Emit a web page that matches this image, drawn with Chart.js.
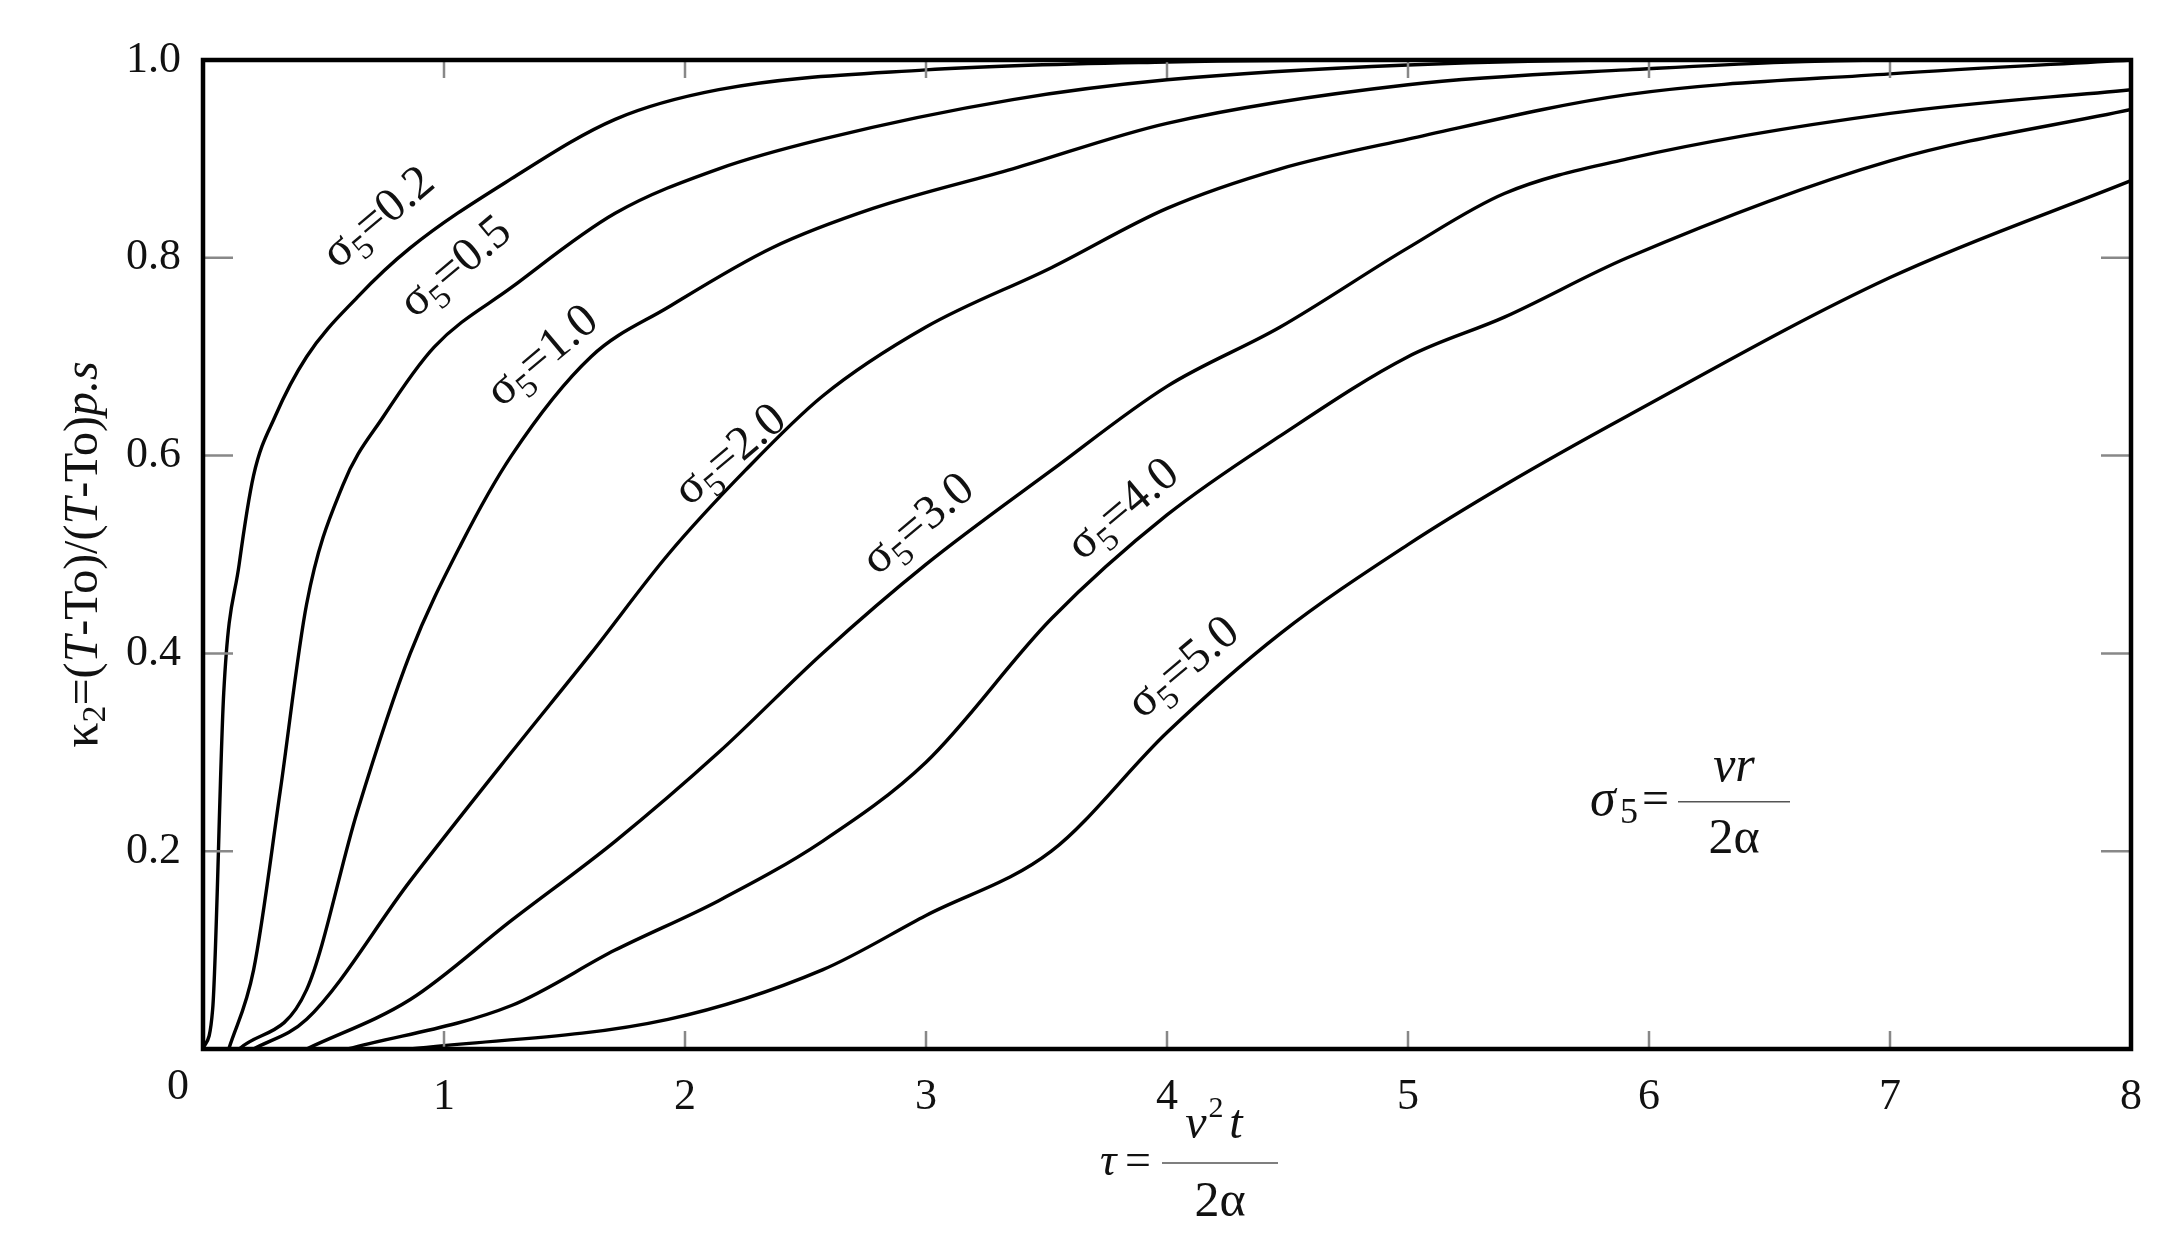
<!DOCTYPE html>
<html><head><meta charset="utf-8">
<script src="https://cdn.jsdelivr.net/npm/chart.js@4"></script>
<style>html,body{margin:0;padding:0;background:#fff}#wrap{width:2173px;height:1236px}</style>
</head><body><div id="wrap"><canvas id="c"></canvas></div>
<script>
const seriesNames = ["σ5=0.2","σ5=0.5","σ5=1.0","σ5=2.0","σ5=3.0","σ5=4.0","σ5=5.0"];
const tau02 = [0,0.04,0.086,0.15,0.21,0.30,0.43,0.64,0.86,1.28,1.71,2.14,3,4,5,8];
const k02   = [0,0.04,0.36,0.49,0.58,0.64,0.70,0.76,0.81,0.88,0.94,0.97,0.99,0.998,1,1];
const tau05 = [0.107,0.21,0.32,0.43,0.58,0.75,0.96,1.28,1.71,2.14,2.57,3.36,4,5,6,7,8];
const k05   = [0,0.08,0.26,0.45,0.57,0.64,0.71,0.77,0.845,0.89,0.92,0.96,0.98,0.995,1,1,1];
const tau10 = [0.15,0.43,0.64,0.86,1.07,1.28,1.61,1.93,2.36,2.78,3.36,4,5,5.91,7,8];
const k10   = [0,0.06,0.24,0.40,0.51,0.60,0.70,0.75,0.81,0.85,0.89,0.936,0.975,0.99,1,1];
const tau20 = [0.21,0.43,0.86,1.28,1.61,1.93,2.25,2.57,3,3.52,4,4.47,5,5.91,7,8];
const k20   = [0,0.03,0.17,0.30,0.40,0.50,0.585,0.66,0.73,0.79,0.85,0.89,0.92,0.965,0.986,1.0];
const tau30 = [0.43,0.86,1.28,1.71,2.14,2.57,3,3.52,4,4.47,5,5.4,5.91,7,8];
const k30   = [0,0.05,0.13,0.21,0.30,0.40,0.49,0.585,0.67,0.73,0.81,0.865,0.90,0.946,0.97];
const tau40 = [0.6,1.28,1.71,2.14,2.57,3,3.52,4,4.47,5,5.4,5.91,7,8];
const k40   = [0,0.044,0.10,0.15,0.21,0.29,0.435,0.54,0.62,0.70,0.74,0.80,0.898,0.95];
const tau50 = [0.86,1.93,2.57,3,3.52,4,4.47,5,5.4,5.91,7,8];
const k50   = [0,0.03,0.08,0.135,0.20,0.32,0.42,0.51,0.57,0.64,0.78,0.878];
const xTicks = [0,1,2,3,4,5,6,7,8];
const yTicks = [0.2,0.4,0.6,0.8,1.0];
const labelTau = [0.73,1.05,1.41,2.19,2.97,3.82,4.07];
const labelK   = [0.84,0.79,0.70,0.60,0.53,0.545,0.385];

const taus=[tau02,tau05,tau10,tau20,tau30,tau40,tau50];
const ks=[k02,k05,k10,k20,k30,k40,k50];
const datasets = seriesNames.map((n,i)=>({label:n,data:taus[i].map((t,j)=>({x:t,y:ks[i][j]})),
  borderColor:'#000',borderWidth:3.4,pointRadius:0,cubicInterpolationMode:'monotone',fill:false}));

const SERIF='"Liberation Serif","DejaVu Serif",serif';
const deco = {id:'deco',afterDraw(ch){
  const c=ch.ctx,xs=ch.scales.x,ys=ch.scales.y,a=ch.chartArea;
  c.save();
  c.strokeStyle='#888';c.lineWidth=2.5;
  xTicks.forEach(t=>{if(t===0||t===8)return;const px=xs.getPixelForValue(t);
    c.beginPath();c.moveTo(px,a.bottom);c.lineTo(px,a.bottom-18);c.moveTo(px,a.top);c.lineTo(px,a.top+18);c.stroke();});
  yTicks.forEach(t=>{if(t===1)return;const py=ys.getPixelForValue(t);
    c.beginPath();c.moveTo(a.left,py);c.lineTo(a.left+30,py);c.moveTo(a.right,py);c.lineTo(a.right-30,py);c.stroke();});
  c.strokeStyle='#000';c.lineWidth=4.5;c.strokeRect(a.left,a.top,a.right-a.left,a.bottom-a.top);
  c.fillStyle='#111';
  c.font='44px '+SERIF;c.textAlign='center';c.textBaseline='top';c.fillText('0',178,a.bottom+16);
  // curve labels
  seriesNames.forEach((n,i)=>{
    const px=xs.getPixelForValue(labelTau[i]),py=ys.getPixelForValue(labelK[i]);
    c.save();c.translate(px,py);c.rotate(-40*Math.PI/180);
    c.textAlign='left';c.textBaseline='middle';
    const val=n.split('=')[1];
    c.font='48px '+SERIF;let w1=c.measureText('σ').width;c.font='34px '+SERIF;let w2=c.measureText('5').width;
    c.font='48px '+SERIF;let w3=c.measureText('='+val).width;
    let x0=-(w1+w2+w3)/2;
    c.fillText('σ',x0,0);c.font='34px '+SERIF;c.fillText('5',x0+w1,14);
    c.font='48px '+SERIF;c.fillText('='+val,x0+w1+w2,0);
    c.restore();
  });
  // formula sigma5 = vr/2α
  let fx=1590,fy=ys.getPixelForValue(0.25);
  c.textAlign='left';c.textBaseline='middle';c.font='italic 52px '+SERIF;c.fillText('σ',fx,fy);
  c.font='36px '+SERIF;c.fillText('5',fx+30,fy+12);
  c.font='48px '+SERIF;c.fillText('=',fx+52,fy);
  c.lineWidth=1.5;c.strokeStyle='#555';c.beginPath();c.moveTo(fx+88,fy);c.lineTo(fx+200,fy);c.stroke();
  c.font='italic 50px '+SERIF;c.textAlign='center';c.fillText('vr',fx+144,fy-34);
  c.font='50px '+SERIF;c.fillText('2α',fx+144,fy+38);
  // x title
  let tx=1220,ty=1163;
  c.textAlign='left';c.font='italic 46px '+SERIF;c.fillText('τ',tx-120,ty);
  c.font='46px '+SERIF;c.fillText('=',tx-95,ty);
  c.lineWidth=1.5;c.beginPath();c.moveTo(tx-58,ty);c.lineTo(tx+58,ty);c.stroke();
  c.textAlign='center';c.font='italic 48px '+SERIF;c.fillText('v',tx-24,ty-38);
  c.font='30px '+SERIF;c.fillText('2',tx-4,ty-54);
  c.font='italic 48px '+SERIF;c.fillText('t',tx+16,ty-38);
  c.font='50px '+SERIF;c.fillText('2α',tx,ty+40);
  // y title
  c.save();c.translate(84,(a.top+a.bottom)/2);c.rotate(-Math.PI/2);
  c.textAlign='left';c.textBaseline='middle';
  const parts=[['κ',50,'normal',0],['2',34,'normal',12],['=(',48,'normal',0],['T',48,'italic',0],['-',48,'normal',0],['To',48,'normal',0],[')/(',48,'normal',0],['T',48,'italic',0],['-',48,'normal',0],['To',48,'normal',0],[')',48,'normal',0],['p.s',48,'italic',0]];
  let tw=0;parts.forEach(p=>{c.font=p[2]+' '+p[1]+'px '+SERIF;tw+=c.measureText(p[0]).width;});
  let xx=-tw/2;parts.forEach(p=>{c.font=p[2]+' '+p[1]+'px '+SERIF;c.fillText(p[0],xx,p[3]);xx+=c.measureText(p[0]).width;});
  c.restore();
  c.restore();
}};

new Chart(document.getElementById('c'),{type:'line',data:{datasets},
 options:{responsive:true,maintainAspectRatio:false,animation:false,
  layout:{padding:{top:60,right:42,left:0,bottom:0}},
  plugins:{legend:{display:false},tooltip:{enabled:false}},
  scales:{
   x:{type:'linear',min:0,max:8,afterFit:s=>{s.height=187;},
      afterBuildTicks:s=>{s.ticks=xTicks.map(v=>({value:v}));},
      grid:{display:false},border:{display:false},
      ticks:{color:'#111',font:{family:SERIF,size:44},padding:14,maxRotation:0,callback:v=>v===0?'':String(v)}},
   y:{min:0,max:1,afterFit:s=>{s.width=203;},
      afterBuildTicks:s=>{s.ticks=[0].concat(yTicks).map(v=>({value:v}));},
      grid:{display:false},border:{display:false},
      ticks:{color:'#111',font:{family:SERIF,size:44},padding:14,callback:v=>v===0?'':v.toFixed(1)}}
  }},plugins:[deco]});
</script></body></html>
